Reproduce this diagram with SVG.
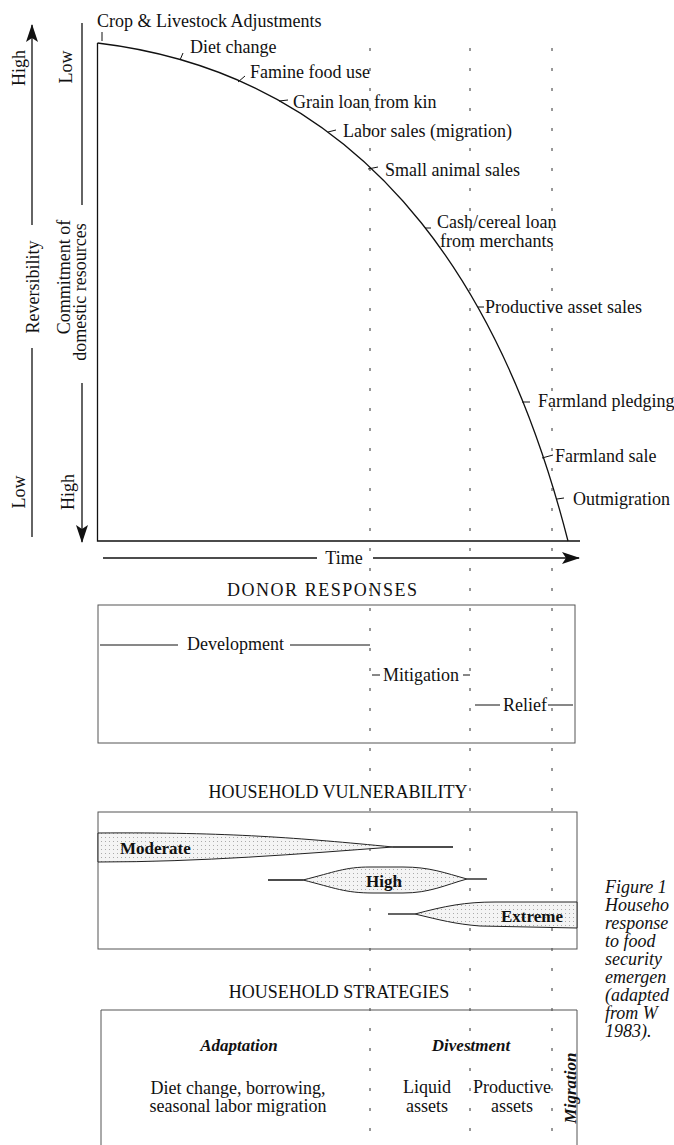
<svg xmlns="http://www.w3.org/2000/svg" width="674" height="1145" viewBox="0 0 674 1145">
<style>
.t{font-family:"Liberation Serif","Times New Roman",serif;font-size:18px;fill:#111}
.m{text-anchor:middle}
.b{font-weight:bold;font-size:17px}
.bi{font-weight:bold;font-style:italic;font-size:17px}
.cap{font-family:"Liberation Serif","Times New Roman",serif;font-style:italic;font-size:18px;fill:#111}
.ln{stroke:#111;stroke-width:1.3;fill:none}
.tk{stroke:#111;stroke-width:1;fill:none}
.box{fill:none;stroke:#555;stroke-width:1}
.guide{stroke:#333;stroke-width:1;stroke-dasharray:3 17;fill:none}
.shape{fill:url(#stip);stroke:#222;stroke-width:1}
</style>
<defs>
<marker id="ah" viewBox="0 0 18 12" refX="17" refY="6" markerWidth="18" markerHeight="12" markerUnits="userSpaceOnUse" orient="auto">
<path d="M0,0 L18,6 L0,12 L4,6 Z" fill="#111"/>
</marker>
<pattern id="stip" width="4" height="4" patternUnits="userSpaceOnUse">
<rect width="4" height="4" fill="#f4f4f4"/>
<rect x="1" y="1" width="1" height="1" fill="#aaa"/>
</pattern>
</defs>
<rect width="674" height="1145" fill="#fff"/>

<g id="guides">
<line class="guide" x1="370" y1="48" x2="370" y2="1145"/>
<line class="guide" x1="470" y1="48" x2="470" y2="1145"/>
<line class="guide" x1="552" y1="48" x2="552" y2="1145"/>
</g>

<g id="reversibility-axis">
<line class="ln" x1="32" y1="225" x2="32" y2="25" marker-end="url(#ah)"/>
<line class="ln" x1="32" y1="348" x2="32" y2="537"/>
<text class="t" transform="translate(39,287) rotate(-90)" text-anchor="middle">Reversibility</text>
<text class="t" transform="translate(25,68) rotate(-90)" text-anchor="middle">High</text>
<text class="t" transform="translate(25,492) rotate(-90)" text-anchor="middle">Low</text>
</g>

<g id="commitment-axis">
<line class="ln" x1="82" y1="23" x2="82" y2="205"/>
<line class="ln" x1="82" y1="383" x2="82" y2="542" marker-end="url(#ah)"/>
<text class="t" transform="translate(70,277) rotate(-90)" text-anchor="middle">Commitment of</text>
<text class="t" transform="translate(86,292) rotate(-90)" text-anchor="middle">domestic resources</text>
<text class="t" transform="translate(72,67) rotate(-90)" text-anchor="middle">Low</text>
<text class="t" transform="translate(74,492) rotate(-90)" text-anchor="middle">High</text>
</g>

<g id="chart">
<path class="ln" d="M97.5,43 V541 H580"/>
<path class="ln" d="M97.5,43 C390,78 512,322 568,541"/>
</g>

<g id="curve-labels">
<line class="tk" x1="102" y1="32" x2="102" y2="41"/>
<text class="t" x="97" y="27">Crop &amp; Livestock Adjustments</text>
<line class="tk" x1="180" y1="60" x2="183" y2="53"/>
<text class="t" x="190" y="53">Diet change</text>
<line class="tk" x1="238" y1="82" x2="245" y2="76"/>
<text class="t" x="250" y="78">Famine food use</text>
<line class="tk" x1="279" y1="101" x2="288" y2="100"/>
<text class="t" x="293" y="108">Grain loan from kin</text>
<line class="tk" x1="328" y1="132" x2="336" y2="130"/>
<text class="t" x="343" y="137">Labor sales (migration)</text>
<line class="tk" x1="368" y1="169" x2="378" y2="167"/>
<text class="t" x="385" y="176">Small animal sales</text>
<line class="tk" x1="425" y1="228" x2="431" y2="228"/>
<text class="t" x="437" y="228">Cash/cereal loan</text>
<text class="t" x="440" y="247">from merchants</text>
<line class="tk" x1="478" y1="307" x2="484" y2="307"/>
<text class="t" x="485" y="313">Productive asset sales</text>
<line class="tk" x1="522" y1="402" x2="530" y2="402"/>
<text class="t" x="538" y="407">Farmland pledging</text>
<line class="tk" x1="542" y1="458" x2="553" y2="455"/>
<text class="t" x="555" y="462">Farmland sale</text>
<line class="tk" x1="557" y1="499" x2="564" y2="498"/>
<text class="t" x="573" y="505">Outmigration</text>
</g>

<g id="time-axis">
<line class="ln" x1="103" y1="558" x2="317" y2="558"/>
<line class="ln" x1="373" y1="558" x2="579" y2="558" marker-end="url(#ah)"/>
<text class="t m" x="344" y="564">Time</text>
</g>

<g id="donor-responses">
<text class="t m" x="322" y="596" textLength="190" lengthAdjust="spacing">DONOR RESPONSES</text>
<rect class="box" x="98" y="605" width="477" height="138"/>
<line class="tk" x1="100" y1="645" x2="178" y2="645"/>
<text class="t" x="187" y="650">Development</text>
<line class="tk" x1="290" y1="645" x2="370" y2="645"/>
<line class="tk" x1="372" y1="675" x2="380" y2="675"/>
<text class="t" x="383" y="681">Mitigation</text>
<line class="tk" x1="463" y1="675" x2="470" y2="675"/>
<line class="tk" x1="475" y1="705" x2="500" y2="705"/>
<text class="t" x="503" y="711">Relief</text>
<line class="tk" x1="548" y1="705" x2="573" y2="705"/>
</g>

<g id="household-vulnerability">
<text class="t m" x="338" y="798">HOUSEHOLD VULNERABILITY</text>
<rect class="box" x="98" y="812" width="479" height="137"/>
<path class="shape" d="M98,833 C230,832 300,838 393,847 C300,854 200,862 98,862 Z"/>
<line class="ln" x1="393" y1="847" x2="453" y2="847"/>
<text class="t b" x="120" y="854">Moderate</text>
<line class="ln" x1="268" y1="880" x2="303" y2="880"/>
<path class="shape" d="M303,880 C335,872 345,867 370,867 L403,867 C430,867 445,873 467,879 C445,885 430,893 403,893 L373,893 C345,893 335,888 303,880 Z"/>
<line class="ln" x1="467" y1="879" x2="487" y2="879"/>
<text class="t b m" x="384" y="887">High</text>
<line class="ln" x1="388" y1="914" x2="415" y2="914"/>
<path class="shape" d="M415,914 C445,906 465,902 495,902 L577,902 L577,928 L480,926 C455,924 440,920 415,914 Z"/>
<text class="t b m" x="532" y="922">Extreme</text>
</g>

<g id="household-strategies">
<text class="t m" x="339" y="998">HOUSEHOLD STRATEGIES</text>
<path class="box" d="M101,1146 V1010 H577 V1146"/>
<text class="t bi m" x="239" y="1051">Adaptation</text>
<text class="t m" x="238" y="1094">Diet change, borrowing,</text>
<text class="t m" x="238" y="1112">seasonal labor migration</text>
<text class="t bi m" x="471" y="1051">Divestment</text>
<text class="t m" x="427" y="1093">Liquid</text>
<text class="t m" x="427" y="1112">assets</text>
<text class="t m" x="512" y="1093">Productive</text>
<text class="t m" x="512" y="1112">assets</text>
<text class="t bi" transform="translate(576,1088) rotate(-90)" text-anchor="middle">Migration</text>
</g>

<g id="caption">
<text class="cap" x="605" y="893">Figure 1</text>
<text class="cap" x="605" y="911">Househo</text>
<text class="cap" x="605" y="929">response</text>
<text class="cap" x="605" y="947">to food</text>
<text class="cap" x="605" y="965">security</text>
<text class="cap" x="605" y="983">emergen</text>
<text class="cap" x="605" y="1001">(adapted</text>
<text class="cap" x="605" y="1019">from W</text>
<text class="cap" x="605" y="1037">1983).</text>
</g>
</svg>
